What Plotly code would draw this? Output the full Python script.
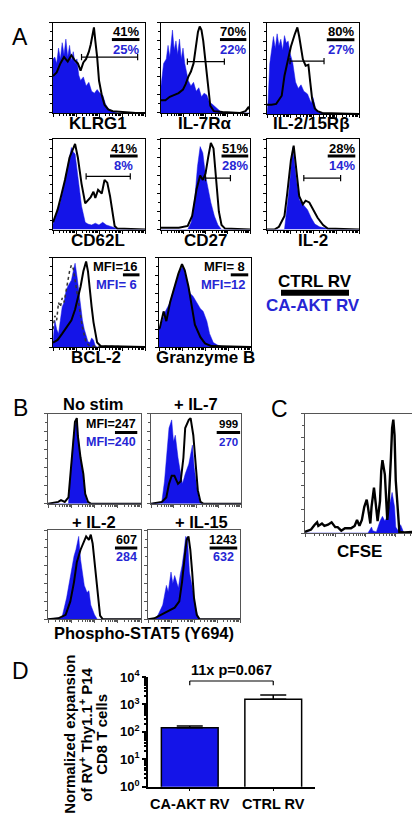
import math
import plotly.graph_objects as go

W, H = 420, 820
FONT = "Liberation Sans, Arial, sans-serif"
BLUE = "#1414E8"
BLUE_TXT = "#2626D4"

# ---------------- Panel A data (x: fraction of log axis, y: fraction of max) ----------------
KLRG1_BLACK_X = [0, 0.04, 0.08, 0.12, 0.16, 0.20, 0.24, 0.27, 0.30, 0.33, 0.36, 0.39, 0.41, 0.43, 0.445, 0.46, 0.48, 0.50, 0.53, 0.56, 0.60, 0.65, 0.75, 0.90, 1.0]
KLRG1_BLACK_Y = [0.41, 0.45, 0.55, 0.62, 0.57, 0.64, 0.58, 0.55, 0.47, 0.56, 0.60, 0.68, 0.76, 0.88, 0.95, 0.80, 0.62, 0.36, 0.20, 0.09, 0.04, 0.02, 0.01, 0.0, 0.0]
KLRG1_BLUE_X = [0, 0.02, 0.04, 0.06, 0.08, 0.10, 0.12, 0.14, 0.16, 0.18, 0.20, 0.22, 0.24, 0.26, 0.28, 0.30, 0.33, 0.36, 0.39, 0.42, 0.45, 0.48, 0.51, 0.54, 0.57, 0.60, 0.64, 0.70, 1.0]
KLRG1_BLUE_Y = [0.60, 0.62, 0.55, 0.72, 0.60, 0.78, 0.65, 0.82, 0.62, 0.75, 0.58, 0.68, 0.55, 0.60, 0.42, 0.36, 0.40, 0.30, 0.34, 0.24, 0.22, 0.26, 0.22, 0.20, 0.10, 0.05, 0.02, 0.0, 0.0]

IL7R_BLACK_X = [0, 0.05, 0.10, 0.15, 0.20, 0.25, 0.28, 0.31, 0.34, 0.37, 0.40, 0.42, 0.44, 0.46, 0.48, 0.50, 0.53, 0.56, 0.60, 0.70, 0.90, 0.96, 0.99, 1.0]
IL7R_BLACK_Y = [0.14, 0.14, 0.18, 0.20, 0.22, 0.26, 0.32, 0.40, 0.46, 0.55, 0.75, 0.90, 0.96, 0.92, 0.80, 0.60, 0.30, 0.08, 0.02, 0.01, 0.0, 0.02, 0.06, 0.04]
IL7R_BLUE_X = [0, 0.03, 0.06, 0.08, 0.10, 0.12, 0.13, 0.15, 0.17, 0.19, 0.21, 0.23, 0.25, 0.27, 0.29, 0.31, 0.34, 0.37, 0.40, 0.43, 0.46, 0.49, 0.52, 0.55, 0.58, 0.62, 0.66, 0.70, 1.0]
IL7R_BLUE_Y = [0.30, 0.55, 0.60, 0.75, 0.62, 0.85, 0.92, 0.70, 0.80, 0.65, 0.82, 0.60, 0.72, 0.55, 0.45, 0.36, 0.30, 0.34, 0.24, 0.28, 0.18, 0.22, 0.20, 0.12, 0.10, 0.06, 0.03, 0.0, 0.0]

IL215R_BLACK_X = [0, 0.05, 0.10, 0.13, 0.16, 0.19, 0.23, 0.26, 0.30, 0.33, 0.35, 0.39, 0.42, 0.45, 0.47, 0.49, 0.52, 0.55, 0.60, 1.0]
IL215R_BLACK_Y = [0.10, 0.10, 0.11, 0.15, 0.20, 0.42, 0.60, 0.74, 0.87, 0.95, 0.85, 0.60, 0.53, 0.54, 0.35, 0.17, 0.06, 0.03, 0.01, 0.0]
IL215R_BLUE_X = [0, 0.01, 0.03, 0.05, 0.07, 0.09, 0.11, 0.13, 0.15, 0.17, 0.19, 0.21, 0.23, 0.25, 0.28, 0.31, 0.34, 0.37, 0.40, 0.44, 0.48, 0.50, 0.53, 0.56, 0.60, 0.65, 1.0]
IL215R_BLUE_Y = [0.0, 0.10, 0.55, 0.70, 0.85, 0.72, 0.88, 0.75, 0.82, 0.70, 0.86, 0.78, 0.80, 0.67, 0.56, 0.35, 0.28, 0.32, 0.25, 0.22, 0.12, 0.18, 0.05, 0.02, 0.01, 0.0, 0.0]

CD62L_BLACK_X = [0, 0.05, 0.09, 0.13, 0.18, 0.24, 0.27, 0.31, 0.35, 0.38, 0.41, 0.44, 0.46, 0.49, 0.53, 0.56, 0.59, 0.62, 0.65, 0.67, 0.70, 1.0]
CD62L_BLACK_Y = [0.08, 0.22, 0.38, 0.55, 0.80, 0.95, 0.80, 0.51, 0.29, 0.33, 0.36, 0.42, 0.35, 0.44, 0.40, 0.55, 0.52, 0.37, 0.15, 0.04, 0.01, 0.0]
CD62L_BLUE_X = [0, 0.05, 0.08, 0.11, 0.14, 0.16, 0.18, 0.20, 0.22, 0.24, 0.27, 0.31, 0.35, 0.38, 0.42, 0.46, 0.50, 0.54, 0.58, 0.62, 0.67, 0.72, 1.0]
CD62L_BLUE_Y = [0.06, 0.22, 0.30, 0.44, 0.60, 0.73, 0.82, 0.91, 0.86, 0.84, 0.59, 0.26, 0.08, 0.06, 0.05, 0.07, 0.05, 0.08, 0.05, 0.04, 0.02, 0.0, 0.0]

CD27_BLACK_X = [0, 0.20, 0.30, 0.35, 0.40, 0.44, 0.47, 0.50, 0.53, 0.56, 0.59, 0.62, 0.65, 0.68, 0.72, 1.0]
CD27_BLACK_Y = [0.02, 0.02, 0.04, 0.15, 0.45, 0.60, 0.55, 0.62, 0.80, 0.96, 0.90, 0.55, 0.20, 0.05, 0.01, 0.0]
CD27_BLUE_X = [0, 0.30, 0.34, 0.38, 0.41, 0.44, 0.47, 0.50, 0.53, 0.56, 0.60, 0.64, 0.68, 1.0]
CD27_BLUE_Y = [0.0, 0.0, 0.08, 0.35, 0.70, 0.92, 0.85, 0.60, 0.45, 0.30, 0.15, 0.05, 0.0, 0.0]

IL2_BLACK_X = [0, 0.08, 0.13, 0.19, 0.22, 0.26, 0.29, 0.32, 0.35, 0.39, 0.42, 0.46, 0.50, 0.55, 0.61, 0.66, 1.0]
IL2_BLACK_Y = [0.0, 0.0, 0.03, 0.15, 0.40, 0.77, 0.93, 0.66, 0.37, 0.28, 0.32, 0.30, 0.22, 0.13, 0.05, 0.01, 0.0]
IL2_BLUE_X = [0, 0.19, 0.24, 0.28, 0.32, 0.35, 0.39, 0.44, 0.48, 0.52, 0.57, 0.66, 0.70, 1.0]
IL2_BLUE_Y = [0.0, 0.0, 0.44, 0.91, 0.55, 0.33, 0.28, 0.22, 0.13, 0.06, 0.03, 0.01, 0.0, 0.0]

BCL2_BLUE_X = [0, 0.02, 0.04, 0.06, 0.08, 0.10, 0.12, 0.14, 0.16, 0.18, 0.20, 0.22, 0.24, 0.26, 0.28, 0.30, 0.32, 0.34, 0.36, 0.38, 0.40, 0.42, 0.44, 0.46, 0.48, 1.0]
BCL2_BLUE_Y = [0.05, 0.30, 0.20, 0.15, 0.30, 0.45, 0.50, 0.62, 0.68, 0.72, 0.75, 0.85, 0.94, 0.80, 0.62, 0.45, 0.30, 0.20, 0.12, 0.06, 0.05, 0.10, 0.08, 0.01, 0.0, 0.0]
BCL2_BLACK_X = [0, 0.05, 0.10, 0.15, 0.20, 0.24, 0.27, 0.30, 0.33, 0.36, 0.38, 0.40, 0.42, 0.44, 0.46, 0.48, 0.52, 1.0]
BCL2_BLACK_Y = [0.05, 0.08, 0.15, 0.22, 0.30, 0.42, 0.55, 0.68, 0.85, 0.96, 0.85, 0.62, 0.45, 0.28, 0.15, 0.05, 0.01, 0.0]
BCL2_ISO_X = [0, 0.02, 0.04, 0.06, 0.08, 0.10, 0.12, 0.14, 0.16, 0.18, 0.20, 0.22, 0.24, 0.26, 0.28, 0.30, 0.32, 0.34, 0.36, 0.40, 1.0]
BCL2_ISO_Y = [0.20, 0.35, 0.30, 0.50, 0.45, 0.55, 0.50, 0.62, 0.70, 0.85, 0.92, 0.88, 0.75, 0.60, 0.48, 0.35, 0.22, 0.12, 0.05, 0.01, 0.0]

GZMB_BLUE_X = [0, 0.01, 0.07, 0.12, 0.17, 0.23, 0.26, 0.30, 0.34, 0.37, 0.41, 0.45, 0.48, 0.52, 0.55, 0.59, 0.64, 0.70, 1.0]
GZMB_BLUE_Y = [0.20, 0.22, 0.40, 0.50, 0.68, 0.86, 0.91, 0.75, 0.60, 0.57, 0.50, 0.43, 0.40, 0.29, 0.15, 0.05, 0.02, 0.0, 0.0]
GZMB_BLACK_X = [0, 0.01, 0.05, 0.08, 0.12, 0.17, 0.21, 0.25, 0.28, 0.32, 0.36, 0.39, 0.45, 0.50, 0.57, 1.0]
GZMB_BLACK_Y = [0.20, 0.22, 0.40, 0.29, 0.50, 0.68, 0.82, 0.93, 0.86, 0.68, 0.43, 0.25, 0.11, 0.04, 0.01, 0.0]

# ---------------- Panel B data ----------------
NOSTIM_BLUE_X = [0, 0.22, 0.23, 0.25, 0.27, 0.29, 0.31, 0.32, 0.34, 0.37, 0.39, 0.41, 0.43, 1.0]
NOSTIM_BLUE_Y = [0, 0, 0.15, 0.44, 0.69, 0.87, 0.93, 0.84, 0.58, 0.36, 0.18, 0.04, 0, 0]
NOSTIM_BLACK_X = [0, 0.11, 0.14, 0.18, 0.22, 0.24, 0.27, 0.29, 0.31, 0.32, 0.35, 0.38, 0.40, 0.43, 0.46, 1.0]
NOSTIM_BLACK_Y = [0, 0.02, 0.04, 0.02, 0.07, 0.33, 0.65, 0.91, 0.95, 0.76, 0.51, 0.33, 0.11, 0.02, 0, 0]

IL7_BLUE_X = [0, 0.12, 0.15, 0.17, 0.20, 0.23, 0.25, 0.27, 0.30, 0.33, 0.35, 0.38, 0.42, 0.46, 0.48, 0.51, 0.54, 0.57, 1.0]
IL7_BLUE_Y = [0, 0.02, 0.25, 0.50, 0.84, 0.93, 0.69, 0.76, 0.51, 0.33, 0.22, 0.33, 0.44, 0.65, 0.40, 0.18, 0.02, 0, 0]
IL7_BLACK_X = [0, 0.12, 0.17, 0.20, 0.23, 0.26, 0.30, 0.33, 0.36, 0.38, 0.42, 0.44, 0.47, 0.50, 0.52, 0.55, 0.58, 1.0]
IL7_BLACK_Y = [0, 0.02, 0.07, 0.22, 0.31, 0.31, 0.22, 0.25, 0.51, 0.84, 0.93, 0.95, 0.76, 0.44, 0.15, 0.02, 0, 0]

STIM2_BLUE_X = [0, 0.15, 0.20, 0.24, 0.28, 0.30, 0.33, 0.35, 0.39, 0.42, 0.44, 0.46, 0.50, 0.53, 1.0]
STIM2_BLUE_Y = [0, 0.02, 0.24, 0.49, 0.71, 0.78, 0.93, 0.67, 0.38, 0.30, 0.32, 0.16, 0.05, 0, 0]
STIM2_BLACK_X = [0, 0.11, 0.19, 0.24, 0.28, 0.31, 0.35, 0.39, 0.41, 0.44, 0.46, 0.48, 0.51, 0.54, 0.56, 0.59, 1.0]
STIM2_BLACK_Y = [0, 0.01, 0.05, 0.20, 0.42, 0.64, 0.78, 0.89, 0.93, 0.89, 0.95, 0.85, 0.53, 0.20, 0.04, 0, 0]

IL15_BLUE_X = [0, 0.08, 0.11, 0.16, 0.20, 0.22, 0.25, 0.27, 0.29, 0.31, 0.33, 0.35, 0.37, 0.39, 0.41, 0.43, 0.45, 0.49, 0.51, 0.54, 0.57, 1.0]
IL15_BLUE_Y = [0, 0, 0.05, 0.16, 0.38, 0.31, 0.53, 0.40, 0.49, 0.42, 0.35, 0.50, 0.60, 0.75, 0.93, 0.90, 0.53, 0.31, 0.16, 0.04, 0, 0]
IL15_BLACK_X = [0, 0.07, 0.14, 0.22, 0.29, 0.34, 0.37, 0.40, 0.42, 0.44, 0.46, 0.48, 0.50, 0.53, 0.56, 1.0]
IL15_BLACK_Y = [0, 0.01, 0.05, 0.09, 0.13, 0.20, 0.42, 0.71, 0.89, 0.93, 0.78, 0.53, 0.24, 0.05, 0, 0]

# ---------------- Panel C data ----------------
CFSE_BLACK_X = [0, 0.03, 0.05, 0.08, 0.10, 0.11, 0.14, 0.16, 0.19, 0.22, 0.25, 0.27, 0.30, 0.33, 0.36, 0.38, 0.41, 0.43, 0.45, 0.47,
                0.49, 0.51, 0.52, 0.54, 0.55, 0.57, 0.58, 0.60, 0.62, 0.63, 0.64, 0.66, 0.68, 0.69, 0.71, 0.72, 0.73, 0.74, 0.75, 0.77,
                0.78, 0.82, 0.90, 1.0]
CFSE_BLACK_Y = [0.01, 0.02, 0.03, 0.07, 0.09, 0.06, 0.08, 0.06, 0.07, 0.09, 0.05, 0.05, 0.02, 0.04, 0.04, 0.04, 0.06, 0.11, 0.06, 0.11,
                0.22, 0.28, 0.22, 0.08, 0.22, 0.38, 0.29, 0.10, 0.27, 0.52, 0.61, 0.49, 0.11, 0.22, 0.63, 0.88, 0.95, 0.82, 0.44, 0.11,
                0.01, 0.005, 0.01, 0.0]
CFSE_BLUE_X = [0, 0.52, 0.55, 0.56, 0.59, 0.62, 0.64, 0.66, 0.68, 0.70, 0.72, 0.74, 0.75, 0.77, 0.79, 0.81, 0.82, 1.0]
CFSE_BLUE_Y = [0, 0, 0.05, 0.02, 0.01, 0.10, 0.14, 0.10, 0.14, 0.25, 0.34, 0.22, 0.05, 0.02, 0.07, 0.02, 0, 0]

# ---------------- Panel D data ----------------
D_CATEGORIES = ["CA-AKT RV", "CTRL RV"]
D_VALUES = [142, 1550]
D_ERR_UP = [21, 680]
D_TICKVALS = [1, 10, 100, 1000, 10000]
D_TICKTEXT = ["10<sup>0</sup>", "10<sup>1</sup>", "10<sup>2</sup>", "10<sup>3</sup>", "10<sup>4</sup>"]
D_SIG_TEXT = "11x p=0.067"


def px(x):
    return x / W


def py(y):
    return 1 - y / H


fig = go.Figure()
annotations = []
shapes = []
axes = {}

XMINOR = [(d + math.log10(k)) / 4 for d in range(4) for k in range(2, 10)]


def names(n):
    if n == 1:
        return "x", "y", "xaxis", "yaxis"
    return f"x{n}", f"y{n}", f"xaxis{n}", f"yaxis{n}"


def hist_panel(n, box, blue, black, iso=None, frame="black", lw=2.0, smooth=False):
    l, t, r, b = box
    xid, yid, xk, yk = names(n)
    common = dict(showline=True, mirror=True, linecolor=frame, linewidth=1.2, showgrid=False,
                  zeroline=False, showticklabels=False, ticks="outside", ticklen=3, tickwidth=1,
                  tickcolor=frame, fixedrange=True)
    axes[xk] = dict(domain=[px(l), px(r)], range=[0, 1], anchor=yid, tickvals=[0, 0.25, 0.5, 0.75, 1.0],
                    minor=dict(tickvals=XMINOR, ticks="outside", ticklen=2, tickcolor=frame), **common)
    axes[yk] = dict(domain=[py(b), py(t)], range=[0, 1], anchor=xid, tickvals=[0, 0.2, 0.4, 0.6, 0.8, 1.0],
                    minor=dict(tickvals=[0.1, 0.3, 0.5, 0.7, 0.9], ticks="outside", ticklen=2, tickcolor=frame), **common)
    shape = "spline" if smooth else "linear"
    fig.add_trace(go.Scatter(x=blue[0], y=blue[1], xaxis=xid, yaxis=yid, mode="lines", fill="tozeroy",
                             fillcolor=BLUE, line=dict(color=BLUE, width=0.5, shape=shape), hoverinfo="skip"))
    if iso is not None:
        fig.add_trace(go.Scatter(x=iso[0], y=iso[1], xaxis=xid, yaxis=yid, mode="lines",
                                 line=dict(color="#333333", width=1.5, dash="dot"), hoverinfo="skip"))
    fig.add_trace(go.Scatter(x=black[0], y=black[1], xaxis=xid, yaxis=yid, mode="lines",
                             line=dict(color="black", width=lw, shape=shape, smoothing=0.6), hoverinfo="skip"))
    return xid, yid


def gate(xid, yid, x0, x1, y):
    shapes.append(dict(type="line", xref=xid, yref=yid, x0=x0, x1=x1, y0=y, y1=y, line=dict(color="black", width=1.2)))
    for xx in (x0, x1):
        shapes.append(dict(type="line", xref=xid, yref=yid, x0=xx, x1=xx, y0=y - 0.035, y1=y + 0.035,
                           line=dict(color="black", width=1.2)))


def frac(xid, yid, cx, top, bottom, size=13, half=0.15, ys=(0.9, 0.815, 0.71)):
    annotations.append(dict(xref=xid, yref=yid, x=cx, y=ys[0], text=f"<b>{top}</b>", showarrow=False,
                            font=dict(size=size, color="black", family=FONT)))
    shapes.append(dict(type="line", xref=xid, yref=yid, x0=cx - half, x1=cx + half, y0=ys[1], y1=ys[1],
                       line=dict(color="black", width=3)))
    annotations.append(dict(xref=xid, yref=yid, x=cx, y=ys[2], text=f"<b>{bottom}</b>", showarrow=False,
                            font=dict(size=size, color=BLUE_TXT, family=FONT)))


def mfi(xid, yid, xr, top, bottom, bx0, bx1, ys=(0.9, 0.81, 0.7), size=13):
    annotations.append(dict(xref=xid, yref=yid, x=xr, y=ys[0], xanchor="right", text=f"<b>{top}</b>",
                            showarrow=False, font=dict(size=size, color="black", family=FONT)))
    shapes.append(dict(type="line", xref=xid, yref=yid, x0=bx0, x1=bx1, y0=ys[1], y1=ys[1],
                       line=dict(color="black", width=3)))
    annotations.append(dict(xref=xid, yref=yid, x=xr, y=ys[2], xanchor="right", text=f"<b>{bottom}</b>",
                            showarrow=False, font=dict(size=size, color=BLUE_TXT, family=FONT)))


def label(x, y, text, size=17, color="black", bold=True, angle=0):
    t = f"<b>{text}</b>" if bold else text
    annotations.append(dict(xref="paper", yref="paper", x=px(x), y=py(y), text=t, showarrow=False,
                            xanchor="center", yanchor="middle", textangle=angle,
                            font=dict(size=size, color=color, family=FONT)))


# ---------- Panel A ----------
xa, ya = hist_panel(1, (45, 6, 137, 98), (KLRG1_BLUE_X, KLRG1_BLUE_Y), (KLRG1_BLACK_X, KLRG1_BLACK_Y))
gate(xa, ya, 0.31, 0.92, 0.62); frac(xa, ya, 0.79, "41%", "25%"); label(90, 109, "KLRG1")

xa, ya = hist_panel(2, (153, 6, 241, 98), (IL7R_BLUE_X, IL7R_BLUE_Y), (IL7R_BLACK_X, IL7R_BLACK_Y))
gate(xa, ya, 0.30, 0.72, 0.57); frac(xa, ya, 0.82, "70%", "22%"); label(197, 109, "IL-7Rα")

xa, ya = hist_panel(3, (259, 6, 351, 99), (IL215R_BLUE_X, IL215R_BLUE_Y), (IL215R_BLACK_X, IL215R_BLACK_Y))
gate(xa, ya, 0.25, 0.62, 0.58); frac(xa, ya, 0.80, "80%", "27%"); label(303, 109, "IL-2/15Rβ")

xa, ya = hist_panel(4, (45, 125, 137, 217), (CD62L_BLUE_X, CD62L_BLUE_Y), (CD62L_BLACK_X, CD62L_BLACK_Y))
gate(xa, ya, 0.36, 0.84, 0.59); frac(xa, ya, 0.77, "41%", "8%"); label(90, 228, "CD62L")

xa, ya = hist_panel(5, (153, 125, 242, 217), (CD27_BLUE_X, CD27_BLUE_Y), (CD27_BLACK_X, CD27_BLACK_Y))
gate(xa, ya, 0.50, 0.78, 0.57); frac(xa, ya, 0.83, "51%", "28%"); label(197, 228, "CD27")

xa, ya = hist_panel(6, (259, 125, 351, 217), (IL2_BLUE_X, IL2_BLUE_Y), (IL2_BLACK_X, IL2_BLACK_Y))
gate(xa, ya, 0.40, 0.80, 0.57); frac(xa, ya, 0.81, "28%", "14%"); label(305, 228, "IL-2")

xa, ya = hist_panel(7, (45, 246, 137, 337), (BCL2_BLUE_X, BCL2_BLUE_Y), (BCL2_BLACK_X, BCL2_BLACK_Y),
                    iso=(BCL2_ISO_X, BCL2_ISO_Y))
mfi(xa, ya, 0.94, "MFI=16", "MFI= 6", 0.76, 0.94); label(88, 348, "BCL-2")

xa, ya = hist_panel(8, (151, 246, 243, 337), (GZMB_BLUE_X, GZMB_BLUE_Y), (GZMB_BLACK_X, GZMB_BLACK_Y))
mfi(xa, ya, 0.96, "MFI= 8", "MFI=12", 0.78, 0.97); label(197, 348, "Granzyme B")

# legend
label(307, 270, "CTRL RV", size=17)
shapes.append(dict(type="line", xref="paper", yref="paper", x0=px(273), x1=px(341), y0=py(281.5), y1=py(281.5),
                   line=dict(color="black", width=6)))
label(305, 295, "CA-AKT RV", size=17, color=BLUE_TXT)

# ---------- Panel B ----------
xa, ya = hist_panel(9, (40, 405, 133, 497), (NOSTIM_BLUE_X, NOSTIM_BLUE_Y), (NOSTIM_BLACK_X, NOSTIM_BLACK_Y), frame="#555555")
mfi(xa, ya, 0.97, "MFI=247", "MFI=240", 0.72, 0.96, ys=(0.88, 0.79, 0.68), size=12.5)
label(85, 395, "No stim", size=16.5)

xa, ya = hist_panel(10, (143, 405, 233, 497), (IL7_BLUE_X, IL7_BLUE_Y), (IL7_BLACK_X, IL7_BLACK_Y), frame="#555555")
frac(xa, ya, 0.86, "999", "270", size=11.5, half=0.13, ys=(0.88, 0.79, 0.68))
label(188, 395, "+ IL-7", size=16.5)

xa, ya = hist_panel(11, (40, 524, 133, 615), (STIM2_BLUE_X, STIM2_BLUE_Y), (STIM2_BLACK_X, STIM2_BLACK_Y), frame="#555555")
frac(xa, ya, 0.84, "607", "284", size=12.5, half=0.12, ys=(0.89, 0.8, 0.7))
label(86, 516, "+ IL-2", size=16.5)

xa, ya = hist_panel(12, (140, 524, 232, 615), (IL15_BLUE_X, IL15_BLUE_Y), (IL15_BLACK_X, IL15_BLACK_Y), frame="#555555")
frac(xa, ya, 0.82, "1243", "632", size=12.5, half=0.15, ys=(0.89, 0.8, 0.7))
label(193, 516, "+ IL-15", size=16.5)

label(136, 629, "Phospho-STAT5 (Y694)", size=16.5)

# ---------- Panel C ----------
xa, ya = hist_panel(13, (297, 405, 418, 527), (CFSE_BLUE_X, CFSE_BLUE_Y), (CFSE_BLACK_X, CFSE_BLACK_Y),
                    frame="#555555", lw=2.4)
label(351, 546, "CFSE", size=17)

# ---------- Panel D ----------
fig.add_trace(go.Bar(
    x=[0, 1], y=D_VALUES, width=0.68, xaxis="x14", yaxis="y14",
    marker=dict(color=[BLUE, "white"], line=dict(color="black", width=1.5)),
    error_y=dict(type="data", array=D_ERR_UP, arrayminus=[0, 0], symmetric=False,
                 color="black", thickness=1.5, width=13),
    hoverinfo="skip"))
axes["xaxis14"] = dict(domain=[px(140), px(307)], range=[-0.5, 1.5], anchor="y14",
                       tickvals=[0, 1], ticktext=[f"<b>{c}</b>" for c in D_CATEGORIES],
                       tickfont=dict(size=14.5, family=FONT, color="black"),
                       showline=True, linecolor="black", linewidth=1.5, ticks="outside", ticklen=3,
                       tickcolor="black", showgrid=False, zeroline=False, fixedrange=True)
axes["yaxis14"] = dict(domain=[py(786), py(674)], type="log", range=[0, 4], anchor="x14",
                       tickvals=D_TICKVALS, ticktext=[f"<b>{t}</b>" for t in D_TICKTEXT],
                       tickfont=dict(size=13, family=FONT, color="black"),
                       showline=True, linecolor="black", linewidth=1.5, ticks="outside", ticklen=4,
                       tickwidth=1.5, tickcolor="black", showgrid=False, zeroline=False, fixedrange=True,
                       minor=dict(tickvals=[k * 10 ** d for d in range(4) for k in range(2, 10)],
                                  ticks="outside", ticklen=2, tickcolor="black"))
# significance bracket
shapes.append(dict(type="line", xref="x14", yref="y14 domain", x0=0, x1=1, y0=0.964, y1=0.964,
                   line=dict(color="black", width=1.2)))
for xx in (0, 1):
    shapes.append(dict(type="line", xref="x14", yref="y14 domain", x0=xx, x1=xx, y0=0.964, y1=0.925,
                       line=dict(color="black", width=1.2)))
annotations.append(dict(xref="x14", yref="y14 domain", x=0.5, y=0.975, yanchor="bottom",
                        text=f"<b>{D_SIG_TEXT}</b>", showarrow=False,
                        font=dict(size=14.5, family=FONT, color="black")))
# y title (three lines)
label(62, 733, "Normalized expansion", size=15, angle=-90)
label(78, 733, "of RV<sup>+</sup> Thy1.1<sup>+</sup> P14", size=15, angle=-90)
label(94, 733, "CD8 T cells", size=15, angle=-90)

# panel letters
for letter, lx, ly in (("A", 12, 20), ("B", 12, 399), ("C", 271, 400), ("D", 12, 668)):
    label(lx, ly, letter, size=23, bold=False)

fig.update_layout(width=W, height=H, margin=dict(l=0, r=0, t=0, b=0), showlegend=False,
                  paper_bgcolor="white", plot_bgcolor="white", annotations=annotations, shapes=shapes,
                  font=dict(family=FONT), **axes)
fig.write_html("out.html")
